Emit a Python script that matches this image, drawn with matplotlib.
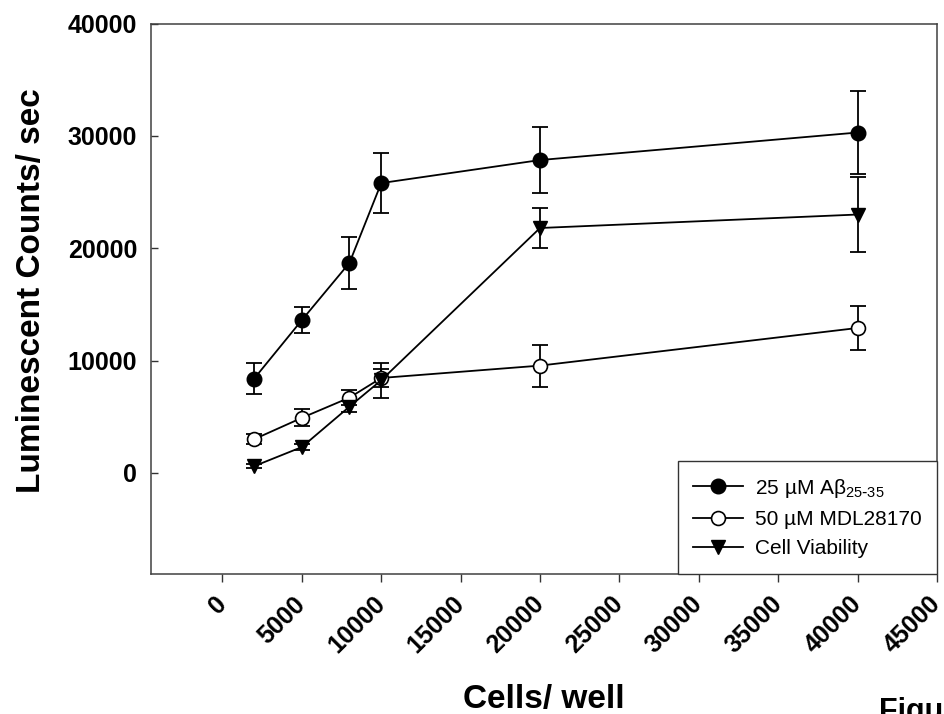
import numpy as np
import matplotlib
matplotlib.use('Agg')
import matplotlib.pyplot as plt

plt.rcParams['font.family'] = ['Liberation Sans', 'DejaVu Sans']

# cells per well
cells = [2000, 5000, 8000, 10000, 20000, 40000]

abeta = [8400, 13600, 18700, 25800, 27850, 30300]      # 25 uM Abeta 25-35
abeta_err = [1400, 1130, 2330, 2650, 2900, 3700]
mdl = [3000, 4900, 6700, 8450, 9550, 12900]            # 50 uM MDL28170
mdl_err = [420, 760, 700, 780, 1870, 2000]
viab = [600, 2300, 5900, 8250, 21800, 23000]           # cell viability
viab_err = [200, 250, 500, 1550, 1770, 3300]

labels = ['25 µM Aβ$_{\\mathregular{25\\text{-}35}}$', '50 µM MDL28170', 'Cell Viability']

xticks = np.arange(0, 45001, 5000)
yticks = np.arange(0, 40001, 10000)

fig = plt.figure(figsize=(9.45, 7.14), dpi=100)
ax = fig.add_axes([0.1598, 0.1961, 0.9915 - 0.1598, 0.967 - 0.1961])

styles = [dict(marker='o', ms=10.5, mfc='k', mec='k'),
          dict(marker='o', ms=10, mfc='white', mec='k', mew=1.2),
          dict(marker='v', ms=10, mfc='k', mec='k')]
series = [(abeta, abeta_err), (mdl, mdl_err), (viab, viab_err)]

for (vals, err), st, lab in zip(series, styles, labels):
    ax.errorbar(cells, vals, yerr=err, fmt='none', ecolor='k', elinewidth=1.3,
                capsize=6, capthick=1.3, zorder=2)
    ax.plot(cells, vals, color='k', lw=1.3, label=lab, zorder=3, **st)

ax.set_xlim(-4500, 45000)
ax.set_ylim(-9000, 40000)
ax.set_xticks(xticks)
ax.set_yticks(yticks)
ax.set_xticklabels([str(v) for v in xticks], fontsize=18, fontweight='bold',
                   rotation=45, ha='right', va='center', rotation_mode='anchor')
ax.set_yticklabels([str(v) for v in yticks], fontsize=18, fontweight='bold')
ax.tick_params(axis='x', direction='out', length=6, width=1, pad=13, color='#333333')
ax.tick_params(axis='y', direction='in', length=5, width=1, pad=10, color='#333333')
for s in ax.spines.values():
    s.set_color('#404040')
    s.set_linewidth(1.1)

ax.set_xlabel('Cells/ well', fontsize=24, fontweight='bold')
ax.xaxis.set_label_coords(0.5, -0.2)
ax.set_ylabel('Luminescent Counts/ sec', fontsize=24, fontweight='bold')
ax.yaxis.set_label_coords(-0.132, 0.515)

leg = ax.legend(loc='lower right', fontsize=15, frameon=True, fancybox=False,
                borderaxespad=0, handlelength=2.4, handletextpad=0.55,
                borderpad=0.75, labelspacing=0.5, framealpha=1)
leg.get_frame().set_edgecolor('#333333')
leg.get_frame().set_linewidth(1.0)

fig.text(879 / 945, -0.008, 'Figure 1', fontsize=22, fontweight='bold', va='baseline')

fig.savefig('out.png', dpi=100)
